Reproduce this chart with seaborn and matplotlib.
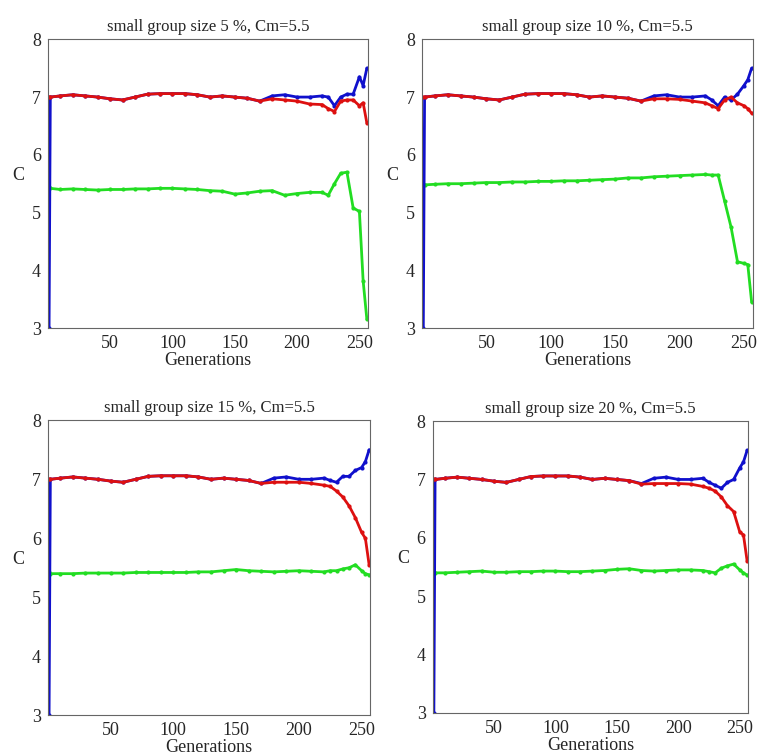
import numpy as np
import pandas as pd
import seaborn as sns
import matplotlib.pyplot as plt

# generations sampled from the figure
gens = [1, 2, 10, 20, 30, 40, 50, 60, 70, 80, 90, 100, 110, 120, 130, 140, 150, 160,
        170, 180, 190, 200, 210, 220, 225, 230, 235, 240, 245, 250, 253, 256]

titles = ["small group size 5 %, Cm=5.5", "small group size 10 %, Cm=5.5",
          "small group size 15 %, Cm=5.5", "small group size 20 %, Cm=5.5"]

base_head = [7.02, 7.04, 7.02, 7.0, 6.97, 6.95, 7.0, 7.05, 7.06, 7.06, 7.06, 7.04,
             7.0, 7.02, 7.0, 6.98, 6.93, 7.02, 7.04, 7.0, 7.0, 7.02]

blue_5 = [3.0, 7.0] + base_head + [7.0, 6.85, 7.0, 7.05, 7.05, 7.35, 7.2, 7.5]
red_5 = [7.0, 7.0] + base_head[:16] + [6.93, 6.97, 6.95, 6.93, 6.88, 6.87] + [6.8, 6.75, 6.93, 6.95, 6.95, 6.85, 6.9, 6.55]
green_5 = [5.45, 5.42, 5.4, 5.41, 5.4, 5.39, 5.4, 5.4, 5.41, 5.41, 5.42, 5.42, 5.41, 5.4,
           5.38, 5.37, 5.32, 5.34, 5.37, 5.38, 5.3, 5.33, 5.35, 5.35,
           5.3, 5.5, 5.68, 5.7, 5.08, 5.02, 3.82, 3.15]

blue_10 = [3.0, 7.0] + base_head + [6.95, 6.85, 7.0, 6.95, 7.05, 7.2, 7.3, 7.5]
red_10 = [7.0, 7.0] + base_head[:16] + [6.93, 6.97, 6.97, 6.96, 6.93, 6.9] + [6.85, 6.8, 6.95, 7.0, 6.9, 6.85, 6.8, 6.72]
green_10 = [5.48, 5.48, 5.49, 5.5, 5.5, 5.51, 5.52, 5.52, 5.53, 5.53, 5.54, 5.54, 5.55, 5.55,
            5.56, 5.57, 5.58, 5.6, 5.6, 5.62, 5.63, 5.64, 5.65, 5.66,
            5.65, 5.65, 5.2, 4.75, 4.15, 4.12, 4.1, 3.45]

blue_15 = [3.0, 7.0] + base_head + [6.98, 6.95, 7.05, 7.05, 7.15, 7.2, 7.3, 7.5]
red_15 = [7.0, 7.0] + base_head[:16] + [6.93, 6.95, 6.95, 6.95, 6.93, 6.9] + [6.88, 6.8, 6.7, 6.55, 6.35, 6.1, 6.0, 5.55]
green_15 = [5.42, 5.4, 5.4, 5.4, 5.41, 5.41, 5.41, 5.41, 5.42, 5.42, 5.42, 5.42, 5.42, 5.43,
            5.43, 5.45, 5.47, 5.45, 5.44, 5.43, 5.44, 5.45, 5.44, 5.43,
            5.45, 5.45, 5.48, 5.5, 5.55, 5.45, 5.4, 5.38]

blue_20 = [3.0, 7.0] + base_head + [6.95, 6.9, 6.85, 6.95, 7.0, 7.2, 7.3, 7.5]
red_20 = [7.0, 7.0] + base_head[:16] + [6.92, 6.93, 6.93, 6.93, 6.92, 6.88] + [6.85, 6.8, 6.7, 6.55, 6.45, 6.1, 6.05, 5.6]
green_20 = [5.42, 5.4, 5.4, 5.41, 5.42, 5.43, 5.41, 5.41, 5.42, 5.42, 5.43, 5.43, 5.42, 5.42,
            5.43, 5.44, 5.46, 5.47, 5.44, 5.43, 5.44, 5.45, 5.45, 5.44,
            5.42, 5.4, 5.48, 5.52, 5.55, 5.45, 5.4, 5.36]

series = [(blue_5, red_5, green_5), (blue_10, red_10, green_10),
          (blue_15, red_15, green_15), (blue_20, red_20, green_20)]

sns.set_style("white")
plt.rcParams['font.family'] = ['Liberation Serif', 'DejaVu Serif']

fig = plt.figure(figsize=(7.59, 7.56), dpi=100)
rects = [[0.063, 0.566, 0.422, 0.382], [0.556, 0.566, 0.436, 0.382],
         [0.063, 0.054, 0.425, 0.390], [0.570, 0.057, 0.416, 0.386]]

for i, (rect, title, (b, r, g)) in enumerate(zip(rects, titles, series)):
    ax = fig.add_axes(rect)
    df = pd.DataFrame({"gen": gens, "blue": b, "red": r, "green": g})
    for col, color in [("green", "#22dd22"), ("blue", "#1010cc"), ("red", "#dd1010")]:
        sns.lineplot(data=df, x="gen", y=col, ax=ax, color=color, linewidth=2,
                     marker="o", markersize=3, markeredgewidth=0)
    ax.set_xlim(0, 257)
    ax.set_ylim(3, 8)
    ax.set_xticks([50, 100, 150, 200, 250])
    ax.set_xticks(range(10, 256, 10), minor=True)
    ax.set_yticks([3, 4, 5, 6, 7, 8])
    ax.set_yticks(np.arange(3, 8, 0.5), minor=True)
    ax.tick_params(which="both", direction="out", labelsize=13, length=2, pad=1,
                   color="#555555")
    ax.tick_params(which="major", length=4)
    ax.set_xlabel("Generations", fontsize=13, labelpad=0)
    ax.set_ylabel("C", fontsize=13, rotation=0, labelpad=10)
    ax.set_title(title, fontsize=12, pad=6)
    for s in ax.spines.values():
        s.set_color("#666666")

fig.savefig("out.png", dpi=100)
